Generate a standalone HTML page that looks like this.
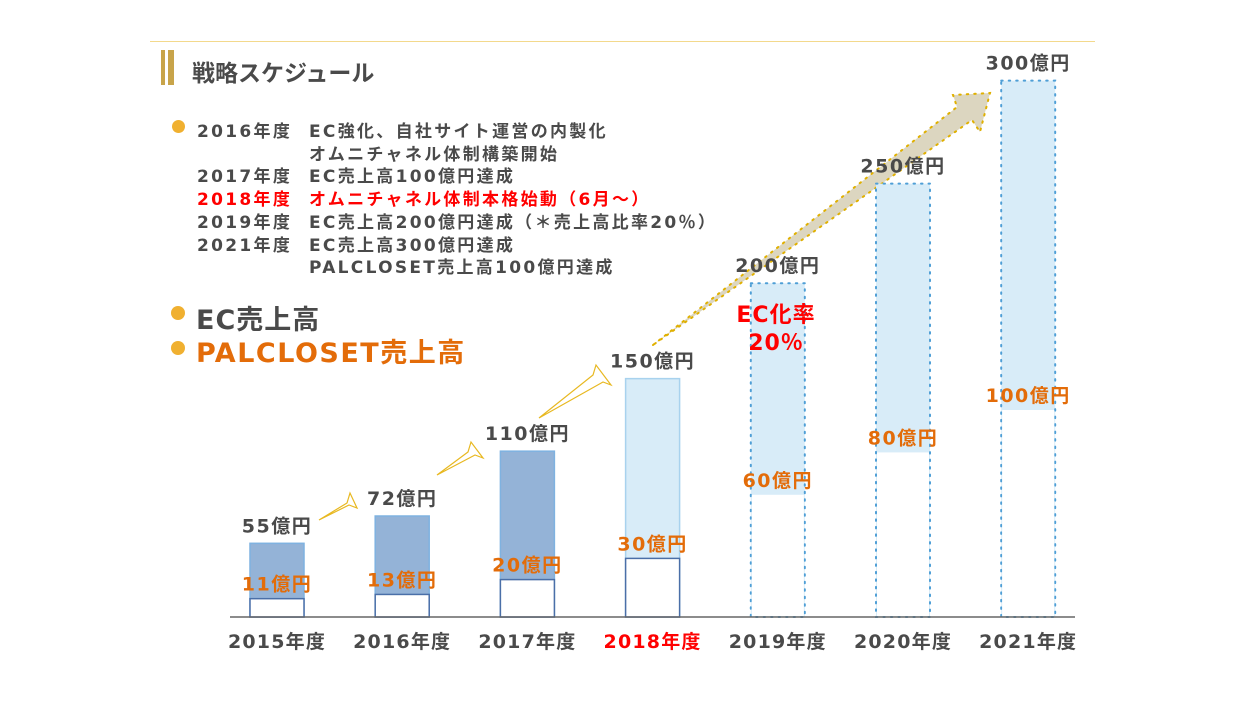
<!DOCTYPE html>
<html><head><meta charset="utf-8">
<style>
body{margin:0;background:#fff;width:1248px;height:702px;overflow:hidden;font-family:"DejaVu Sans","Noto Sans CJK JP",sans-serif;}
.t{position:absolute;white-space:nowrap;font-weight:bold;}
svg text{font-family:"DejaVu Sans","Noto Sans CJK JP",sans-serif;}
</style></head>
<body>
<div style="position:relative;width:1248px;height:702px;">
<div style="position:absolute;left:150px;top:41px;width:945px;height:1px;background:#f3d98c"></div>
<div style="position:absolute;left:161px;top:50px;width:4px;height:35px;background:#c8a44a"></div>
<div style="position:absolute;left:168px;top:50px;width:6px;height:35px;background:#c8a44a"></div>
<div class="t" style="left:192px;top:54px;font-size:23px;color:#4a4a4a">戦略スケジュール</div>

<div style="position:absolute;left:0;top:0;font-size:17px;font-weight:bold;color:#4a4a4a;letter-spacing:2.3px">
<div style="position:absolute;left:172px;top:120px;width:13px;height:13px;border-radius:50%;background:#f0b030"></div>
<div class="t" style="left:197px;top:117px">2016年度</div><div class="t" style="left:309px;top:117px">EC強化、自社サイト運営の内製化</div>
<div class="t" style="left:309px;top:140px">オムニチャネル体制構築開始</div>
<div class="t" style="left:197px;top:162px">2017年度</div><div class="t" style="left:309px;top:162px">EC売上高100億円達成</div>
<div class="t" style="left:197px;top:185px;color:#f00">2018年度</div><div class="t" style="left:309px;top:185px;color:#f00">オムニチャネル体制本格始動（6月～）</div>
<div class="t" style="left:197px;top:208px">2019年度</div><div class="t" style="left:309px;top:208px">EC売上高200億円達成（＊売上高比率20％）</div>
<div class="t" style="left:197px;top:231px">2021年度</div><div class="t" style="left:309px;top:231px">EC売上高300億円達成</div>
<div class="t" style="left:309px;top:253px">PALCLOSET売上高100億円達成</div>
</div>

<div>
<div style="position:absolute;left:171px;top:306px;width:14px;height:14px;border-radius:50%;background:#f0b030"></div>
<div class="t" style="left:196px;top:298px;font-size:27px;color:#4a4a4a;letter-spacing:1px">EC売上高</div>
</div>
<div>
<div style="position:absolute;left:171px;top:341px;width:14px;height:14px;border-radius:50%;background:#f0b030"></div>
<div class="t" style="left:196px;top:331px;font-size:27px;color:#e36c09;letter-spacing:1.5px">PALCLOSET売上高</div>
</div>

<svg id="chart" width="1248" height="702" style="position:absolute;left:0;top:0">
<g id="arrows"></g>
<g id="bars"></g>
<line x1="230" y1="617" x2="1075" y2="617" stroke="#666" stroke-width="1.5"/>
<g id="labels"></g>
</svg>
<div class="t" style="left:730px;top:302px;font-size:22px;color:#f00;text-align:center;line-height:28px;width:92px;letter-spacing:1px">EC化率<br>20％</div>
</div>
<script>
const years=["2015年度","2016年度","2017年度","2018年度","2019年度","2020年度","2021年度"];
const ecSales=[55,72,110,150,200,250,300];
const palSales=[11,13,20,30,60,80,100];
const totalLabels=["55億円","72億円","110億円","150億円","200億円","250億円","300億円"];
const palLabels=["11億円","13億円","20億円","30億円","60億円","80億円","100億円"];

const NS="http://www.w3.org/2000/svg";
const base=617;
function xPos(i){return 250+i*125.2;}
const bw=54;
function hTotal(v){return 0.678*Math.pow(v,1.17);}
function hPal(v){return 2.12*v-5;}
function mk(t,a){const e=document.createElementNS(NS,t);for(const k in a)e.setAttribute(k,a[k]);return e;}
const bars=document.getElementById('bars'),labels=document.getElementById('labels'),arrows=document.getElementById('arrows');

years.forEach((y,i)=>{
  const x=xPos(i),ht=hTotal(ecSales[i]),hp=hPal(palSales[i]);
  const future=i>=4, cur=i===3;
  const outer=mk('rect',{x:x,y:base-ht,width:bw,height:ht,
    fill:i<3?'#94b3d7':'#d8ecf8',stroke:i<3?'#7fb2e0':(cur?'#a8d2ee':'#4f9fd6'),
    'stroke-width':future?2:1.5,'stroke-dasharray':future?'1.5 6':'none','stroke-linecap':'round'});
  
  
  bars.appendChild(outer);
  const inner=mk('rect',{x:x+(future?1:0),y:base-hp,width:bw-(future?2:0),height:hp-(future?1:0),fill:'#fff',
    stroke:future?'none':'#4a6fa8','stroke-width':1.5});
  
  
  bars.appendChild(inner);
  const tl=mk('text',{x:x+bw/2,y:base-ht-11,'text-anchor':'middle','font-size':19,'font-weight':'bold',fill:'#4a4a4a','letter-spacing':1.5});
  tl.textContent=totalLabels[i];
  
  
  labels.appendChild(tl);
  const pl=mk('text',{x:x+bw/2,y:base-hp-8,'text-anchor':'middle','font-size':19,'font-weight':'bold',fill:'#e36c09','letter-spacing':1.5});
  pl.textContent=palLabels[i];
  
  
  labels.appendChild(pl);
  const yl=mk('text',{x:x+bw/2,y:648,'text-anchor':'middle','font-size':19,'font-weight':'bold',fill:cur?'#f00':'#4a4a4a','letter-spacing':1.2});
  yl.textContent=y;
  
  
  labels.appendChild(yl);
});

// small growth arrows
[[319,520,350,493,357,508],[437,475,471,442,483,458],[539,418,596,365,611,385]].forEach(a=>{
  const [x1,y1,tx,ty,bx,by]=a;
  const p=mk('polygon',{points:`${x1},${y1} ${tx-3},${ty+10} ${tx},${ty} ${bx},${by} ${bx-8},${by-3}`,fill:'none',stroke:'#e8b820','stroke-width':1.2});
  
  
  arrows.appendChild(p);
});
const big=mk('polygon',{points:'653,345 957,107 953,95 990,93 980,132 972,120 653,345',fill:'#dcd6c0',stroke:'#e0b000','stroke-width':2,'stroke-dasharray':'1.5 6','stroke-linecap':'round'});


arrows.appendChild(big);
</script>
</body></html>
